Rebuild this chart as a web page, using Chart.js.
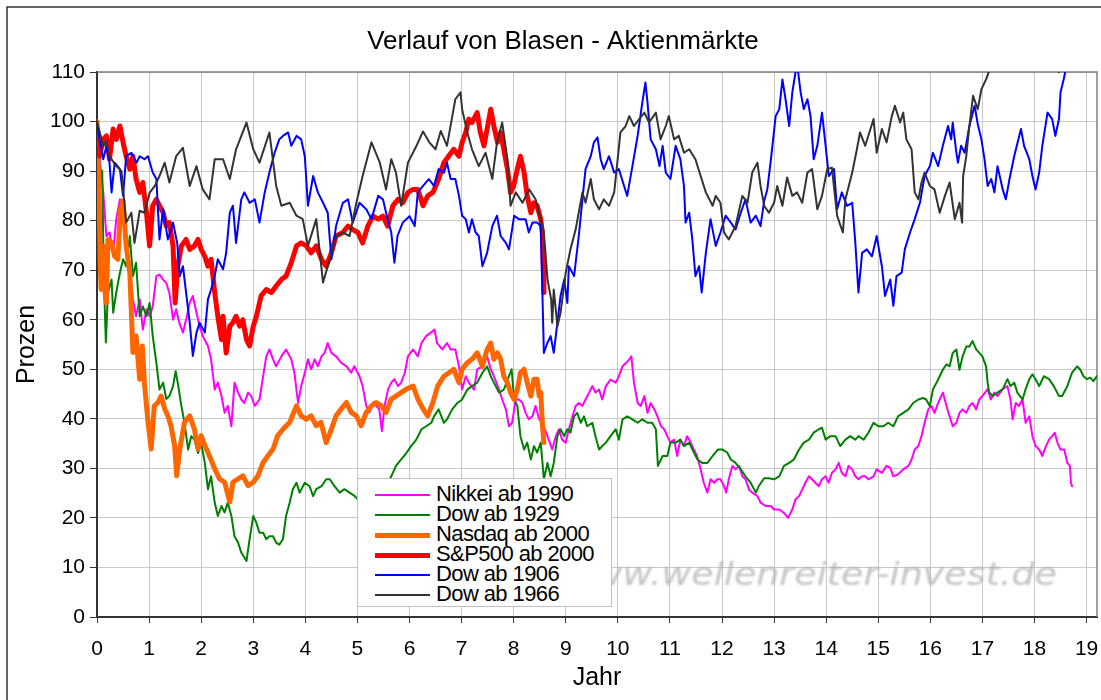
<!DOCTYPE html>
<html>
<head>
<meta charset="utf-8">
<script src="https://cdn.jsdelivr.net/npm/chart.js@4.4.1/dist/chart.umd.min.js"></script>
<style>
  body { margin: 0; background: #fff; }
  #wrap { position: relative; width: 1101px; height: 700px; overflow: hidden; }
  #legende {
    position: absolute; left: 357px; top: 478px; width: 255px; height: 129px;
    background: #fff; border: 1px solid #c0c0c0; box-sizing: border-box; padding-top: 6px;
    font: 22px "Liberation Sans", Arial, sans-serif; color: #000;
  }
  .eintrag { position: relative; height: 20px; line-height: 20px; white-space: nowrap; letter-spacing: -0.6px; }
  .linie { position: absolute; left: 17px; width: 55px; top: 50%; }
  .text { position: absolute; left: 78px; top: -1px; }
</style>
</head>
<body>
<div id="wrap">
  <canvas id="grafik" width="1101" height="700"></canvas>
  <div id="legende"></div>
</div>
<script>
// Werte: [Jahr, Prozent]
const nikkei1990 = [[0,100],[0.05,92.4],[0.12,85.7],[0.18,76.9],[0.24,77.6],[0.31,73.5],[0.37,80.3],[0.44,84.3],[0.5,83.6],[0.56,73.5],[0.63,70],[0.69,64.1],[0.75,60.7],[0.82,64.1],[0.88,58],[0.95,62.1],[1.01,60.7],[1.07,62.7],[1.14,68.8],[1.2,69.1],[1.27,68.1],[1.33,67.4],[1.39,65.4],[1.46,60],[1.52,62.1],[1.58,59.4],[1.65,57.4],[1.71,60],[1.78,63.4],[1.84,64.8],[1.91,61.4],[1.97,58.7],[2.03,56.7],[2.13,54.7],[2.19,52],[2.26,45.9],[2.32,47.3],[2.39,44.6],[2.45,41.2],[2.51,42.6],[2.58,38.5],[2.64,47.3],[2.71,45.3],[2.77,43.9],[2.83,43.2],[2.9,45.3],[2.96,44.6],[3.03,42.6],[3.12,43.9],[3.19,48.6],[3.25,52.6],[3.31,54],[3.38,52],[3.44,50.6],[3.54,52.6],[3.63,54],[3.73,52],[3.79,49.3],[3.86,43.2],[3.92,46.6],[3.99,49.3],[4.05,52],[4.11,50],[4.18,52],[4.24,50.6],[4.31,52.6],[4.37,53.3],[4.43,55.3],[4.5,53.3],[4.59,52.6],[4.69,51.3],[4.79,50.6],[4.88,49.3],[4.94,50.6],[5.04,48.6],[5.1,46.6],[5.17,42.6],[5.23,41.3],[5.3,43.3],[5.36,42.6],[5.42,41.9],[5.47,37.5],[5.52,42.6],[5.59,46],[5.65,47.3],[5.71,48],[5.78,46.6],[5.84,47.3],[5.91,49.3],[5.97,52.6],[6.07,54],[6.16,52.6],[6.23,55.3],[6.32,56.7],[6.41,57.4],[6.48,58],[6.53,55.3],[6.63,54],[6.72,55.3],[6.79,54],[6.88,54],[6.95,50.6],[7.01,45.9],[7.08,48.6],[7.14,47.3],[7.24,45.9],[7.3,50],[7.4,50.6],[7.49,52.6],[7.56,50],[7.62,48.6],[7.72,45.9],[7.78,43.9],[7.85,41.9],[7.91,38.5],[7.97,39.2],[8.04,43.9],[8.1,43.9],[8.17,43.2],[8.23,41.2],[8.29,39.9],[8.36,40.5],[8.42,42.6],[8.49,39.9],[8.55,39.2],[8.65,36.5],[8.74,33.8],[8.81,36.5],[8.87,37.9],[8.93,35.8],[9,35.2],[9.06,37.9],[9.13,40.5],[9.19,42.6],[9.25,43.2],[9.32,42.6],[9.38,43.9],[9.45,45.3],[9.51,46.6],[9.57,45.3],[9.64,45.9],[9.7,43.9],[9.77,46.6],[9.86,47.9],[9.96,47.3],[10.02,48.6],[10.09,50.6],[10.15,51.2],[10.22,52],[10.26,52.6],[10.31,47.3],[10.38,43.2],[10.44,42.6],[10.51,44.6],[10.57,41.2],[10.63,43.2],[10.7,41.9],[10.76,40.5],[10.83,38.5],[10.89,37.9],[10.95,36.5],[11.01,35.2],[11.08,35.8],[11.14,32.5],[11.2,35.8],[11.27,34.5],[11.33,36.5],[11.4,35.2],[11.46,33.8],[11.52,32.5],[11.59,29.8],[11.65,27.1],[11.72,25.1],[11.78,27.8],[11.85,27.1],[11.91,27.8],[11.97,27.8],[12.04,26.4],[12.08,25.1],[12.13,27.8],[12.2,30.5],[12.26,29.8],[12.33,30.5],[12.39,28.4],[12.45,27.8],[12.52,25.7],[12.58,25.1],[12.68,24.4],[12.74,23.1],[12.84,22.4],[12.94,22.4],[13,21.7],[13.1,21.7],[13.19,21],[13.27,20],[13.35,21.7],[13.41,23.7],[13.48,24.4],[13.54,25.7],[13.6,27.1],[13.67,28.4],[13.73,27.8],[13.79,27.1],[13.86,26.4],[13.92,27.8],[13.99,28.4],[14.05,27.1],[14.11,29.1],[14.18,29.8],[14.24,31.1],[14.3,29.1],[14.37,28.4],[14.43,30.5],[14.5,29.8],[14.56,28.4],[14.62,27.8],[14.69,28.4],[14.75,28.4],[14.81,27.8],[14.91,28.4],[14.97,29.8],[15.07,29.1],[15.16,30.5],[15.23,30.1],[15.29,28.4],[15.38,28.8],[15.48,29.8],[15.58,30.5],[15.64,31.8],[15.7,33.8],[15.77,34.5],[15.83,36.5],[15.89,39.2],[15.96,41.9],[16.02,42.6],[16.08,41.2],[16.15,43.2],[16.24,45.3],[16.31,42.6],[16.37,40.5],[16.43,38.5],[16.5,39.2],[16.56,41.2],[16.62,41.9],[16.69,41.2],[16.75,42.6],[16.81,43.2],[16.88,41.9],[16.94,43.9],[17,44.6],[17.1,46],[17.16,43.9],[17.23,45.3],[17.29,44.6],[17.39,46],[17.48,46.6],[17.54,43.9],[17.58,39.9],[17.64,43.2],[17.7,42.6],[17.77,43.9],[17.83,39.2],[17.9,40.5],[17.96,36.5],[18.02,34.5],[18.09,33.8],[18.15,32.5],[18.22,34.5],[18.28,35.8],[18.34,36.5],[18.39,37.2],[18.44,35.2],[18.5,33.8],[18.57,33.8],[18.6,32.5],[18.63,31.1],[18.68,30.5],[18.7,27.1],[18.72,26.4]];

const dow1929 = [[0,100],[0.05,90.4],[0.1,90],[0.13,68.8],[0.17,55.4],[0.21,65.5],[0.28,68.1],[0.31,61.4],[0.37,65.5],[0.44,69.5],[0.5,72.2],[0.56,70.8],[0.63,76.9],[0.69,68.8],[0.75,71.5],[0.82,60.7],[0.88,62.7],[0.95,60.7],[1.01,63.4],[1.07,56.7],[1.14,51.3],[1.2,45.9],[1.27,47.3],[1.33,44],[1.39,44.6],[1.46,46.6],[1.51,49.6],[1.55,47.3],[1.62,42.6],[1.68,39.2],[1.75,33.8],[1.81,36.5],[1.87,35.8],[1.94,33.1],[2,35.2],[2.07,31.1],[2.13,25.8],[2.19,28.4],[2.26,23.1],[2.32,20.4],[2.39,22.4],[2.45,21.1],[2.51,23.1],[2.58,20.4],[2.64,16.3],[2.71,15],[2.77,13],[2.87,11.3],[2.93,15.7],[3,20.4],[3.06,19],[3.12,17],[3.19,17],[3.25,15.7],[3.31,16.3],[3.38,16.3],[3.44,15],[3.5,14.6],[3.57,15.7],[3.63,20.4],[3.7,23.1],[3.76,25.8],[3.83,27.1],[3.89,25.1],[3.99,27.1],[4.08,26.4],[4.15,24.4],[4.21,25.8],[4.31,26.4],[4.4,27.8],[4.47,27.8],[4.56,26.4],[4.66,25.1],[4.75,25.8],[4.85,25.1],[4.95,24.4],[5.01,23.7],[5.07,24.4],[5.17,25.8],[5.27,26.4],[5.36,27.1],[5.46,27.1],[5.55,26.4],[5.65,28.4],[5.74,30.5],[5.84,31.8],[5.94,33.1],[6.03,34.5],[6.13,35.8],[6.23,37.9],[6.32,38.5],[6.42,39.2],[6.47,40.5],[6.56,41.9],[6.66,39.2],[6.72,39.9],[6.82,41.9],[6.92,43.2],[7.01,43.9],[7.11,45.9],[7.2,46.6],[7.3,47.3],[7.4,49.3],[7.49,50.6],[7.56,48.6],[7.62,47.3],[7.72,45.3],[7.81,45.9],[7.91,48.6],[7.96,50],[8.01,43.9],[8.07,42.6],[8.13,36.5],[8.2,33.8],[8.26,35.2],[8.33,31.8],[8.39,34.5],[8.45,33.2],[8.52,35.2],[8.58,27.8],[8.65,31.1],[8.71,28.4],[8.77,31.1],[8.84,36.5],[8.9,37.9],[8.97,36.5],[9.03,37.9],[9.09,37.2],[9.16,40.5],[9.22,41.2],[9.29,39.2],[9.35,40.5],[9.41,38.5],[9.51,39.2],[9.57,36.5],[9.64,33.8],[9.7,34.5],[9.77,35.2],[9.86,36.5],[9.96,37.9],[10.02,35.8],[10.09,39.9],[10.18,40.5],[10.28,39.9],[10.38,39.2],[10.47,39.9],[10.57,39.2],[10.66,39.2],[10.73,37.9],[10.77,30.5],[10.86,32.5],[10.95,32.5],[11.01,35.2],[11.11,35.2],[11.2,35.8],[11.27,34.5],[11.37,35.2],[11.46,33.2],[11.53,31.8],[11.62,31.1],[11.72,31.1],[11.82,32.5],[11.92,33.8],[12.01,33.8],[12.1,33.2],[12.17,31.8],[12.26,31.1],[12.36,29.8],[12.45,28.4],[12.55,27.1],[12.65,25.1],[12.71,26.5],[12.81,28],[12.9,28],[13,27.8],[13.1,28.4],[13.19,30.5],[13.29,31.1],[13.38,31.8],[13.48,33.8],[13.57,35.2],[13.67,35.8],[13.76,37.2],[13.86,37.9],[13.92,38.2],[13.99,35.8],[14.08,36.5],[14.18,36.5],[14.27,34.5],[14.37,35.8],[14.46,36.5],[14.56,35.8],[14.62,36.5],[14.72,35.8],[14.81,37.2],[14.91,39.2],[15,38.5],[15.1,38.5],[15.19,39.2],[15.29,38.5],[15.38,40.5],[15.48,41.2],[15.58,41.9],[15.67,43.2],[15.77,43.9],[15.86,44.2],[15.92,43.9],[15.99,42.6],[16.05,45.9],[16.12,47.3],[16.18,48.6],[16.24,49.9],[16.31,51],[16.37,50.6],[16.43,53.3],[16.5,54],[16.56,49.9],[16.62,52.6],[16.69,54.6],[16.75,54.6],[16.81,55.7],[16.88,54],[16.94,53.3],[17,52.6],[17.07,50.6],[17.1,47.3],[17.13,45.3],[17.2,44.6],[17.29,45.3],[17.39,46],[17.48,48],[17.54,46.6],[17.61,47.3],[17.67,45.3],[17.77,43.9],[17.83,46],[17.9,48],[17.96,49],[18.02,48],[18.09,46.6],[18.18,48.6],[18.28,48],[18.37,46.6],[18.47,44.6],[18.53,44.6],[18.63,46.6],[18.72,49.3],[18.82,50.6],[18.88,49.9],[18.94,48.6],[19.01,48],[19.07,48.3],[19.13,47.6],[19.2,48.6]];

const nasdaq2000 = [[0,100],[0.02,92],[0.04,85.7],[0.06,72],[0.08,66.1],[0.12,74.9],[0.15,66],[0.18,63.4],[0.21,76.2],[0.28,75.5],[0.34,72.8],[0.4,72.2],[0.45,82.3],[0.5,84],[0.56,74.9],[0.63,69.5],[0.69,53.4],[0.75,56.7],[0.82,48],[0.87,54.7],[0.91,47.3],[0.98,39.3],[1.04,33.9],[1.1,42.6],[1.17,43.3],[1.23,44.6],[1.3,42],[1.36,40.6],[1.42,38.6],[1.49,34.6],[1.53,28.5],[1.59,33.9],[1.68,39.3],[1.78,40.6],[1.87,37.9],[1.94,33.9],[2,36.6],[2.07,34.6],[2.16,32.5],[2.26,29.9],[2.35,27.9],[2.45,27.2],[2.55,23.2],[2.61,27.2],[2.71,27.9],[2.8,28.5],[2.9,26.5],[3,27.2],[3.09,28.5],[3.19,31.2],[3.28,32.5],[3.38,33.9],[3.47,36.6],[3.57,37.9],[3.7,39.3],[3.83,42.6],[3.92,40.6],[4.02,39.9],[4.11,40.6],[4.21,38.6],[4.3,39.3],[4.4,35.2],[4.5,37.9],[4.59,40.6],[4.69,42],[4.79,43.3],[4.88,41.3],[4.98,40.6],[5.07,38.6],[5.17,41.3],[5.27,42.6],[5.36,43.3],[5.46,42.6],[5.55,41.3],[5.65,44],[5.74,44.6],[5.84,45.3],[5.94,46],[6.07,46.6],[6.16,44],[6.26,42],[6.35,40.6],[6.45,43.3],[6.54,46.6],[6.66,48.6],[6.76,49.3],[6.85,50],[6.95,47.3],[7.01,50],[7.11,51.3],[7.2,52],[7.3,53.3],[7.4,50.6],[7.49,54],[7.56,55.3],[7.62,52],[7.69,53.3],[7.75,52],[7.81,48.6],[7.88,47.3],[7.94,45.3],[8.01,43.9],[8.07,45.9],[8.13,49.3],[8.2,50],[8.26,47.3],[8.33,44.6],[8.39,48],[8.45,48],[8.49,44.6],[8.52,45.3],[8.55,39.2],[8.58,35.2]];

const sp5002000 = [[0,97.8],[0.05,93],[0.12,96.4],[0.18,97.1],[0.24,92.4],[0.31,98.5],[0.37,96.4],[0.44,99.1],[0.5,95.8],[0.56,93],[0.63,90.4],[0.69,93],[0.75,88.4],[0.82,85.7],[0.88,87.7],[0.95,81.6],[1.01,74.9],[1.07,83],[1.14,84.3],[1.2,83],[1.27,81.6],[1.33,78.9],[1.39,79.6],[1.46,74.9],[1.5,63.4],[1.55,70.8],[1.62,74.9],[1.71,76.2],[1.78,74.2],[1.87,74.9],[1.94,76.2],[2,74.2],[2.07,72.8],[2.13,70.8],[2.19,72.2],[2.26,65.5],[2.32,60.7],[2.39,56],[2.42,60.7],[2.48,53.3],[2.55,58.7],[2.61,59.4],[2.67,60.7],[2.74,58.7],[2.8,60],[2.87,56],[2.93,54.7],[3,58.7],[3.06,60.7],[3.15,64.8],[3.25,66.1],[3.35,65.5],[3.44,66.8],[3.54,68.1],[3.63,68.8],[3.73,71.5],[3.83,74.9],[3.92,75.5],[4.02,74.9],[4.11,73.5],[4.21,74.9],[4.31,72.2],[4.4,70.8],[4.5,73.5],[4.59,76.9],[4.72,77.6],[4.82,78.9],[4.91,78.2],[5.01,77.6],[5.1,75.5],[5.2,78.9],[5.3,80.9],[5.4,80.3],[5.49,80.9],[5.58,78.9],[5.68,83],[5.78,84.3],[5.87,83.6],[5.97,85.7],[6.07,86.3],[6.16,86.3],[6.26,83],[6.35,85],[6.45,85.7],[6.56,88.4],[6.66,91.7],[6.75,93],[6.85,94.4],[6.95,93],[7.01,95.8],[7.08,97.8],[7.14,100.5],[7.2,99.8],[7.3,101.8],[7.36,97.8],[7.43,95.1],[7.49,98.5],[7.56,102.5],[7.62,99.1],[7.69,95.8],[7.75,97.8],[7.81,94.4],[7.88,90.4],[7.94,85.7],[8,87],[8.07,90.4],[8.13,93],[8.2,89.7],[8.26,85],[8.33,81.6],[8.39,83.6],[8.45,83],[8.52,80.3],[8.55,77.6],[8.57,70.8],[8.58,65.5]];

const dow1906 = [[0,99.8],[0.05,96.4],[0.12,92.4],[0.18,95],[0.24,91.7],[0.28,85.7],[0.34,91.7],[0.44,90.4],[0.5,85],[0.56,93],[0.66,93.7],[0.76,91.7],[0.82,93],[0.91,92.4],[0.98,93],[1.07,89.7],[1.14,88.4],[1.2,76.2],[1.27,82.3],[1.36,76.2],[1.46,79.6],[1.54,75.5],[1.59,68.8],[1.65,70.8],[1.71,65.5],[1.78,59.4],[1.84,52.7],[1.91,57.4],[1.97,59.4],[2.07,57.4],[2.13,64.1],[2.19,66.1],[2.26,68.8],[2.32,72.2],[2.42,70.2],[2.48,73.5],[2.55,81.6],[2.61,83],[2.67,75.5],[2.77,84.3],[2.83,85.7],[2.93,83.6],[3.03,84.3],[3.12,79.6],[3.22,85.7],[3.31,89.7],[3.41,93.7],[3.5,96.4],[3.57,97.1],[3.67,97.8],[3.73,95.1],[3.83,97.1],[3.92,96.4],[3.99,93],[4.05,83],[4.15,89],[4.24,85.7],[4.34,83.6],[4.43,81.6],[4.5,72.2],[4.59,78.9],[4.72,83.6],[4.82,84.3],[4.91,79.6],[5.04,83.6],[5.17,82.3],[5.27,80.3],[5.4,85],[5.49,84.3],[5.58,80.3],[5.65,77.6],[5.71,71.5],[5.77,76.9],[5.87,79.6],[6,80.9],[6.1,78.9],[6.16,85.7],[6.26,87],[6.37,88.4],[6.47,87],[6.56,90.4],[6.66,89.7],[6.72,91.7],[6.79,88.4],[6.88,88.4],[6.95,85],[7.01,81],[7.08,80.3],[7.14,77.6],[7.2,80.3],[7.27,77.6],[7.33,76.9],[7.4,70.8],[7.49,73.5],[7.59,78.9],[7.68,81],[7.75,76.9],[7.85,75.5],[7.91,74.2],[8.01,81],[8.1,80.3],[8.23,80.3],[8.29,77.6],[8.36,79.6],[8.45,79.6],[8.52,78.9],[8.58,53.3],[8.65,55.4],[8.71,56.7],[8.77,53.3],[8.84,59.4],[8.9,64.8],[8.97,68.1],[9.03,63.4],[9.06,70.8],[9.16,68.8],[9.25,76.9],[9.32,84.3],[9.38,90.4],[9.48,93],[9.54,95.8],[9.61,96.8],[9.67,92.4],[9.73,90.4],[9.83,93],[9.93,89.7],[10.02,90.4],[10.12,87],[10.18,85],[10.28,91],[10.38,97.1],[10.47,103.8],[10.53,107.9],[10.57,103.8],[10.63,96.4],[10.73,94.4],[10.8,91],[10.86,95.1],[10.92,89.7],[11.01,88.4],[11.11,95.1],[11.2,92.4],[11.27,87],[11.3,79.6],[11.37,81.6],[11.43,76.2],[11.49,68.8],[11.56,70.8],[11.61,65.5],[11.69,73.5],[11.78,80.3],[11.88,74.9],[11.97,77.6],[12.07,81],[12.17,79.6],[12.26,78.2],[12.36,81.6],[12.45,84.3],[12.55,79.6],[12.65,81],[12.74,78.9],[12.81,84],[12.87,86.3],[12.94,92.4],[13.03,101.1],[13.1,102.5],[13.16,108.5],[13.22,104.5],[13.29,99.1],[13.35,105.9],[13.41,109.9],[13.45,111],[13.51,105.9],[13.57,102.5],[13.64,104.5],[13.7,101.1],[13.76,92.4],[13.83,95.1],[13.92,101.8],[13.99,95.1],[14.05,89],[14.15,90.4],[14.21,82.3],[14.3,85.7],[14.4,83],[14.5,83.6],[14.56,75.5],[14.62,65.5],[14.69,73.5],[14.78,74.2],[14.88,72.8],[14.97,76.9],[15.07,70.8],[15.13,64.8],[15.23,68.1],[15.29,62.8],[15.35,68.8],[15.45,69.5],[15.51,74.2],[15.61,77.6],[15.7,80.3],[15.8,83.6],[15.89,89],[15.99,91],[16.05,93.7],[16.15,91],[16.24,95.1],[16.34,99.1],[16.4,96.4],[16.43,99.8],[16.5,93.7],[16.53,91.7],[16.59,95.1],[16.66,93.7],[16.75,99.1],[16.85,103.2],[16.91,99.5],[16.98,96.4],[17.04,92.4],[17.1,87],[17.17,88.4],[17.23,85.7],[17.29,91],[17.39,86.3],[17.45,84.3],[17.52,88.4],[17.61,93],[17.74,98.5],[17.8,95.1],[17.9,92.4],[17.96,89],[18.02,86.3],[18.09,89.7],[18.15,95.1],[18.25,101.8],[18.34,100.5],[18.4,97.1],[18.47,100.5],[18.5,105.9],[18.56,108.5],[18.6,110.5],[18.7,113]];

const dow1966 = [[0,100],[0.05,98],[0.12,95],[0.18,96],[0.24,93],[0.37,91],[0.47,90],[0.56,79.6],[0.66,81.6],[0.72,75.5],[0.82,82],[0.91,81.6],[1.01,85.6],[1.11,87],[1.2,89],[1.3,91.7],[1.39,87.7],[1.52,93],[1.65,94.7],[1.78,87],[1.91,91],[2.03,86.3],[2.16,84.3],[2.26,92.4],[2.42,92.4],[2.55,88.4],[2.67,94.4],[2.87,99.8],[3,94.4],[3.12,91.7],[3.31,97.8],[3.44,87],[3.54,83],[3.7,83.6],[3.83,81],[3.95,80.3],[4.05,74.9],[4.21,80.3],[4.34,67.5],[4.47,72.2],[4.6,76.9],[4.72,77.6],[4.85,76.9],[4.98,83.6],[5.1,89],[5.27,95.8],[5.43,91.7],[5.55,86.3],[5.65,92.4],[5.74,89.7],[5.84,83],[5.97,91.7],[6.13,95],[6.26,98],[6.38,95.8],[6.5,94.4],[6.6,98.1],[6.72,95.1],[6.82,101],[6.88,104.5],[6.98,105.9],[7.01,102.5],[7.11,97.8],[7.2,94.4],[7.33,91],[7.46,93.7],[7.59,88.4],[7.68,95.8],[7.78,99.8],[7.88,92.4],[7.94,83],[8.04,85.7],[8.17,83.6],[8.3,86.3],[8.42,84.3],[8.52,80.3],[8.58,77.6],[8.65,68.1],[8.72,64.1],[8.74,59.4],[8.77,66.1],[8.84,58.7],[8.9,61.4],[9,69.5],[9.09,74.2],[9.19,78.2],[9.32,85.7],[9.38,83.6],[9.48,88.4],[9.54,84.3],[9.64,82.3],[9.73,84.3],[9.83,83],[9.93,85.7],[9.99,91.7],[10.05,97.8],[10.15,99.1],[10.22,101.1],[10.31,99.1],[10.41,100.5],[10.51,101.8],[10.6,99.8],[10.73,101.8],[10.82,96.4],[10.92,99.1],[10.98,101.1],[11.08,96.4],[11.17,97.1],[11.27,93.7],[11.37,94.4],[11.49,92.4],[11.59,89],[11.69,85.7],[11.82,83],[11.88,85],[11.97,83.6],[12.04,77.6],[12.13,76.2],[12.26,78.9],[12.39,85],[12.49,83.6],[12.58,89.7],[12.68,91.7],[12.74,87],[12.81,83],[12.9,81.6],[13,83.6],[13.06,87],[13.16,83],[13.25,88.7],[13.35,85],[13.44,85.7],[13.54,83.6],[13.64,89.7],[13.73,90.4],[13.83,82.3],[13.92,85],[14.02,90.4],[14.11,90.7],[14.21,81],[14.32,77.6],[14.37,84.3],[14.5,89.7],[14.59,94.4],[14.65,97.8],[14.75,95.1],[14.91,100.5],[14.97,93.7],[15.07,98.5],[15.16,95.8],[15.26,101.1],[15.32,103.2],[15.42,99.8],[15.48,101.8],[15.54,96.4],[15.64,94.4],[15.7,85.7],[15.77,84.3],[15.83,87.7],[15.89,89.7],[15.99,87],[16.08,86.3],[16.18,81.6],[16.28,85],[16.37,87.7],[16.47,80.3],[16.56,83.6],[16.61,79.6],[16.63,89],[16.69,93],[16.75,99.1],[16.82,105.2],[16.91,102.5],[16.98,106.5],[17.07,108.5],[17.13,110.2],[17.3,114],[17.6,116],[18,115],[18.3,112],[18.47,110],[18.6,112]];

const serien = [
  { label: "Nikkei ab 1990",   daten: nikkei1990, farbe: "#ff00ff", breite: 2 },
  { label: "Dow ab 1929",      daten: dow1929,    farbe: "#008000", breite: 2 },
  { label: "Nasdaq ab 2000",   daten: nasdaq2000, farbe: "#ff6600", breite: 5 },
  { label: "S&P500 ab 2000",   daten: sp5002000,  farbe: "#ff0000", breite: 5 },
  { label: "Dow ab 1906",      daten: dow1906,    farbe: "#0000ff", breite: 2 },
  { label: "Dow ab 1966",      daten: dow1966,    farbe: "#333333", breite: 2 }
];

const titel = "Verlauf von Blasen - Aktienmärkte";
const wasserzeichen = "www.wellenreiter-invest.de";
const schrift = '"Liberation Sans", Arial, sans-serif';

// Rahmen, Titel und Wasserzeichen
const extras = {
  id: "extras",
  beforeDraw(chart) {
    const ctx = chart.ctx;
    ctx.save();
    ctx.fillStyle = "#fff";
    ctx.fillRect(0, 0, chart.width, chart.height);
    ctx.strokeStyle = "#333";
    ctx.lineWidth = 1.5;
    ctx.strokeRect(7, 7, chart.width + 20, chart.height + 20);
    ctx.fillStyle = "#000";
    ctx.font = "26px " + schrift;
    ctx.textAlign = "center";
    ctx.textBaseline = "middle";
    ctx.fillText(titel, 563, 42);
    ctx.restore();
  },
  beforeDatasetsDraw(chart) {
    const ctx = chart.ctx, a = chart.chartArea;
    ctx.save();
    ctx.font = 'italic 32px "DejaVu Sans", Verdana, sans-serif';
    const w = ctx.measureText(wasserzeichen).width;
    ctx.translate(563, 585);
    ctx.scale(494 / w, 1);
    ctx.filter = "blur(0.8px)";
    ctx.fillStyle = "rgba(175,175,175,0.75)";
    ctx.textBaseline = "alphabetic";
    ctx.fillText(wasserzeichen, 0, 0);
    ctx.restore();

    ctx.save();
    ctx.strokeStyle = "#808080";
    ctx.lineWidth = 1.5;
    ctx.beginPath();
    ctx.moveTo(a.left, a.top);
    ctx.lineTo(a.right, a.top);
    ctx.lineTo(a.right, a.bottom);
    ctx.stroke();
    ctx.restore();
  }
};

new Chart(document.getElementById("grafik"), {
  type: "line",
  data: {
    datasets: serien.map((s, i) => ({
      label: s.label,
      data: s.daten.map(p => ({ x: p[0], y: p[1] })),
      borderColor: s.farbe,
      backgroundColor: s.farbe,
      borderWidth: s.breite,
      pointRadius: 0,
      tension: 0,
      fill: false,
      clip: 0,
      order: serien.length - i
    }))
  },
  options: {
    responsive: false,
    animation: false,
    layout: { padding: { top: 72, right: 4, left: 0, bottom: 0 } },
    plugins: { legend: { display: false }, title: { display: false }, tooltip: { enabled: false } },
    elements: { line: { borderJoinStyle: "round", borderCapStyle: "round" } },
    scales: {
      x: {
        type: "linear", min: 0, max: 19.2,
        afterFit: s => { s.height = 83; s.paddingLeft = 0; s.paddingRight = 0; },
        ticks: { stepSize: 1, includeBounds: false, autoSkip: false, maxRotation: 0,
                 color: "#000", padding: 14, font: { family: schrift, size: 21 },
                 callback: v => String(v) },
        grid: { color: "#c8c8c8", lineWidth: 1, tickColor: "#333", tickLength: 6 },
        border: { color: "#333", width: 2 },
        title: { display: true, text: "Jahr", color: "#000",
                 font: { family: schrift, size: 25 }, padding: { top: 0, bottom: 7 } }
      },
      y: {
        min: 0, max: 110,
        afterFit: s => { s.width = 97; s.paddingTop = 0; s.paddingBottom = 0; },
        ticks: { stepSize: 10, color: "#000", padding: 5, font: { family: schrift, size: 21 } },
        grid: { color: "#c8c8c8", lineWidth: 1, tickColor: "#333", tickLength: 7 },
        border: { color: "#333", width: 2 },
        title: { display: true, text: "Prozen", color: "#000",
                 font: { family: schrift, size: 25 }, padding: { top: 12, bottom: 0 } }
      }
    }
  },
  plugins: [extras]
});

// Legende
const legende = document.getElementById("legende");
serien.forEach(s => {
  const zeile = document.createElement("div");
  zeile.className = "eintrag";
  const linie = document.createElement("div");
  linie.className = "linie";
  linie.style.height = s.breite + "px";
  linie.style.marginTop = (-s.breite / 2) + "px";
  linie.style.background = s.farbe;
  const text = document.createElement("span");
  text.className = "text";
  text.textContent = s.label;
  zeile.appendChild(linie);
  zeile.appendChild(text);
  legende.appendChild(zeile);
});
</script>
</body>
</html>
